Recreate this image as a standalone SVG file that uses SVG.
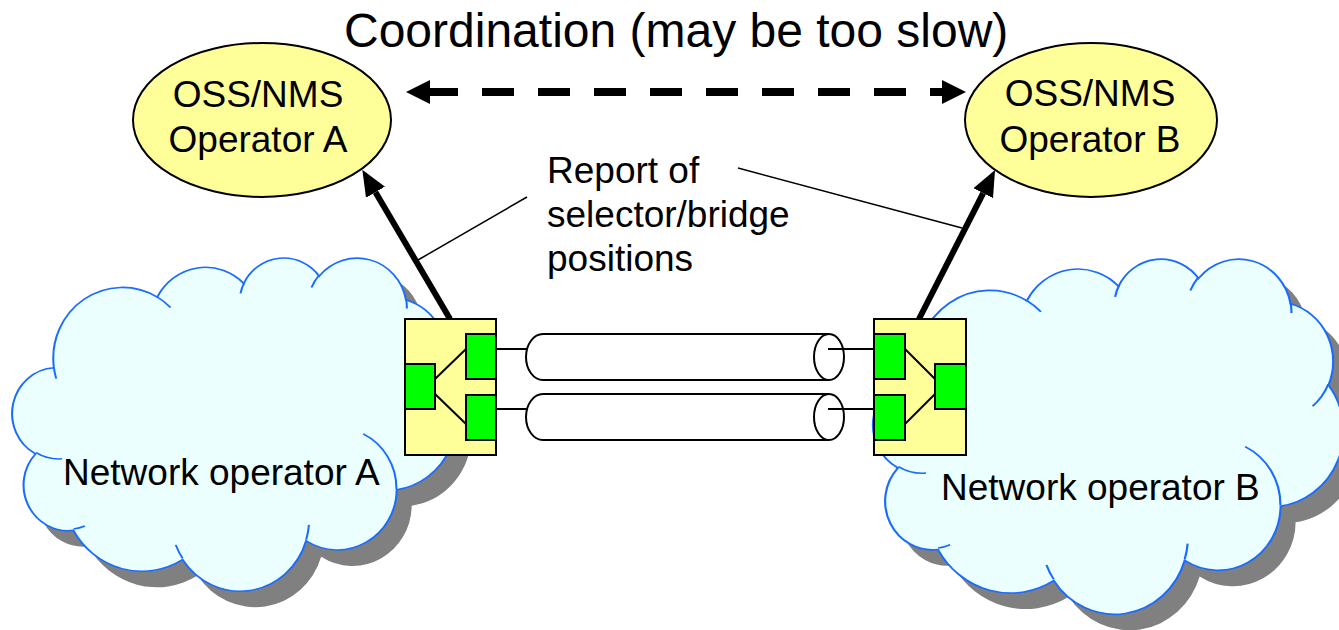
<svg xmlns="http://www.w3.org/2000/svg" xmlns:xlink="http://www.w3.org/1999/xlink" width="1339" height="630" viewBox="0 0 1339 630">
  <style>
    .txt { font-family: "Liberation Sans", Arial, sans-serif; fill: #000; }
    .t36 { font-size: 37px; }
    .mid { text-anchor: middle; }
    .cloud-body { fill: #ebffff; stroke: #1a6cff; stroke-width: 2; vector-effect: non-scaling-stroke; }
    .cloud-shadow { fill: #808080; stroke: none; }
    .cloud-tail { fill: none; stroke: #1a6cff; stroke-width: 2; vector-effect: non-scaling-stroke; }
    .oss { fill: #ffff99; stroke: #000; stroke-width: 2; }
    .box { fill: #ffff99; stroke: #000; stroke-width: 2; }
    .port { fill: #00ff00; stroke: #000; stroke-width: 2; }
    .thin { fill: none; stroke: #000; stroke-width: 2; }
    .pipe { fill: #fff; stroke: #000; stroke-width: 2; }
    .report { fill: none; stroke: #000; stroke-width: 6; marker-end: url(#head-thick); }
    .callout { fill: none; stroke: #000; stroke-width: 1.5; }
  </style>
  <defs>
    <!-- cloud outline on a 432 x 432 grid -->
    <path id="cloud" d="M39.00,143.70
      A67.53 91.90 0 0 1 140.05,52.02
      A53.33 72.67 0 0 1 224.56,34.32
      A43.65 59.45 0 0 1 298.33,24.80
      A48.57 65.95 0 0 1 383.18,55.74
      A53.33 72.73 0 0 1 418.19,154.58
      A67.75 92.20 0 0 1 374.03,301.99
      A57.85 78.67 0 0 1 285.54,368.09
      A67.52 92.15 0 0 1 164.80,392.61
      A77.20 105.43 0 0 1 58.03,354.67
      A43.60 59.18 0 0 1 21.11,255.46
      A43.45 59.45 0 0 1 39.00,143.70 Z"/>
    <!-- inner arcs where the bumps meet -->
    <path id="cloud-tails" d="M46.93,261.77 A43.45 59.45 0 0 1 21.59,253.80
      M69.28,348.99 A43.60 59.18 0 0 1 58.19,352.81
      M164.78,390.90 A67.52 92.15 0 0 1 158.09,373.49
      M288.27,347.51 A67.52 92.15 0 0 1 285.60,366.60
      M341.29,229.54 A57.85 78.67 0 0 1 373.80,300.89
      M417.98,153.54 A53.33 72.73 0 0 1 403.49,180.31
      M383.24,54.26 A48.57 65.95 0 0 1 384.01,66.90
      M290.78,39.52 A48.57 65.95 0 0 1 298.20,23.40
      M221.41,47.20 A43.65 59.45 0 0 1 225.00,33.31
      M140.00,51.92 A67.53 91.90 0 0 1 153.00,65.41
      M41.27,157.89 A67.53 91.90 0 0 1 39.01,143.70"/>
    <marker id="head-thick" viewBox="0 0 26 22" refX="0" refY="11" markerWidth="26" markerHeight="22" markerUnits="userSpaceOnUse" orient="auto">
      <path d="M0,0 L26,11 L0,22 Z" fill="#000"/>
    </marker>
    <marker id="head-dash" viewBox="0 0 24 24" refX="0" refY="12" markerWidth="24" markerHeight="24" markerUnits="userSpaceOnUse" orient="auto-start-reverse">
      <path d="M0,0 L24,12 L0,24 Z" fill="#000"/>
    </marker>
  </defs>

  <!-- Network operator A cloud -->
  <g id="cloud-a">
    <g transform="translate(29,273) scale(1.0231,0.7708)">
      <use xlink:href="#cloud" class="cloud-shadow"/>
    </g>
    <g transform="translate(14,257) scale(1.0231,0.7708)">
      <use xlink:href="#cloud" class="cloud-body"/>
      <use xlink:href="#cloud-tails" class="cloud-tail"/>
    </g>
    <text class="txt t36" x="63" y="485">Network operator A</text>
  </g>

  <!-- Network operator B cloud -->
  <g id="cloud-b">
    <g transform="translate(890,274) scale(1.0845,0.8218)">
      <use xlink:href="#cloud" class="cloud-shadow"/>
    </g>
    <g transform="translate(875,258) scale(1.0845,0.8218)">
      <use xlink:href="#cloud" class="cloud-body"/>
      <use xlink:href="#cloud-tails" class="cloud-tail"/>
    </g>
    <text class="txt t36" x="941" y="500">Network operator B</text>
  </g>

  <!-- OSS/NMS management systems -->
  <g id="oss-a">
    <ellipse class="oss" cx="262" cy="120" rx="129" ry="77"/>
    <text class="txt t36 mid" x="258" y="107">OSS/NMS</text>
    <text class="txt t36 mid" x="258" y="152">Operator A</text>
  </g>
  <g id="oss-b">
    <ellipse class="oss" cx="1091" cy="120" rx="126" ry="77"/>
    <text class="txt t36 mid" x="1090" y="106">OSS/NMS</text>
    <text class="txt t36 mid" x="1090" y="152">Operator B</text>
  </g>

  <!-- connectors -->
  <g id="connectors">
    <!-- coordination between the two OSS -->
    <line x1="430" y1="92" x2="942" y2="92" stroke="#000" stroke-width="8" stroke-dasharray="32 24" stroke-dashoffset="4" marker-start="url(#head-dash)" marker-end="url(#head-dash)"/>
    <!-- status reports up to each OSS -->
    <line class="report" x1="450" y1="319" x2="375.5" y2="192.2"/>
    <line class="report" x1="919" y1="319" x2="983.2" y2="193.2"/>
    <!-- callout lines of the report label -->
    <line class="callout" x1="418" y1="260" x2="527" y2="197"/>
    <line class="callout" x1="738" y1="168" x2="962" y2="228"/>
    <!-- port to pipe links -->
    <line class="thin" x1="496" y1="349" x2="527" y2="349"/>
    <line class="thin" x1="496" y1="409" x2="527" y2="409"/>
  </g>

  <!-- inter-operator links -->
  <g id="pipe-1">
    <path class="pipe" d="M829,334 L543,334 A17 23 0 0 0 543,380 L829,380"/>
    <ellipse class="pipe" cx="829" cy="357" rx="15" ry="23"/>
    <line class="thin" x1="828" y1="349" x2="874" y2="349"/>
  </g>
  <g id="pipe-2">
    <path class="pipe" d="M829,394 L543,394 A17 23 0 0 0 543,440 L829,440"/>
    <ellipse class="pipe" cx="829" cy="417" rx="15" ry="23"/>
    <line class="thin" x1="828" y1="409" x2="874" y2="409"/>
  </g>

  <!-- selector/bridge of operator A -->
  <g id="box-a">
    <rect class="box" x="405" y="319" width="91" height="136"/>
    <rect class="port" x="405" y="364" width="30" height="45"/>
    <rect class="port" x="466" y="334" width="30" height="45"/>
    <rect class="port" x="466" y="395" width="30" height="45"/>
    <line class="thin" x1="435" y1="379" x2="466" y2="349"/>
    <line class="thin" x1="435" y1="394" x2="466" y2="424"/>
  </g>

  <!-- selector/bridge of operator B -->
  <g id="box-b">
    <rect class="box" x="874" y="319" width="92" height="136"/>
    <rect class="port" x="874" y="334" width="31" height="45"/>
    <rect class="port" x="874" y="395" width="31" height="45"/>
    <rect class="port" x="935" y="364" width="31" height="45"/>
    <line class="thin" x1="905" y1="349" x2="935" y2="379"/>
    <line class="thin" x1="905" y1="424" x2="935" y2="394"/>
  </g>

  <!-- labels -->
  <g id="labels">
    <text class="txt" x="344" y="47" font-size="48">Coordination (may be too slow)</text>
    <text class="txt t36" x="547" y="183">Report of</text>
    <text class="txt t36" x="547" y="227">selector/bridge</text>
    <text class="txt t36" x="547" y="271">positions</text>
  </g>
</svg>
